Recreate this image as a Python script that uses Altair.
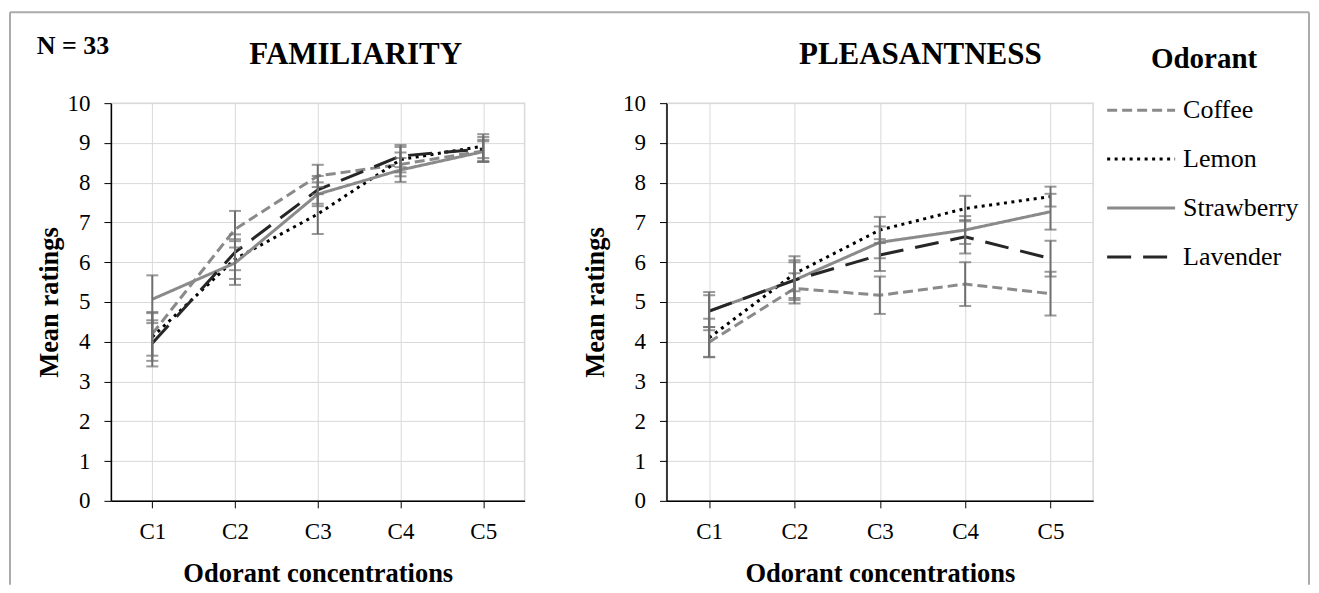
import altair as alt
import pandas as pd

categories = ["C1", "C2", "C3", "C4", "C5"]
odorants = ["Coffee", "Lemon", "Strawberry", "Lavender"]

# FAMILIARITY means
fam_coffee = [4.20, 6.83, 8.17, 8.46, 8.80]
fam_lemon = [4.12, 6.08, 7.21, 8.58, 8.92]
fam_strawberry = [5.07, 5.98, 7.71, 8.32, 8.78]
fam_lavender = [3.96, 6.25, 7.82, 8.67, 8.85]
# FAMILIARITY error half-widths
fam_err_coffee = [0.55, 0.46, 0.28, 0.30, 0.28]
fam_err_lemon = [0.60, 0.50, 0.50, 0.32, 0.30]
fam_err_strawberry = [0.60, 0.55, 0.30, 0.30, 0.26]
fam_err_lavender = [0.58, 0.45, 0.35, 0.28, 0.30]

# PLEASANTNESS means
ple_coffee = [3.99, 5.34, 5.17, 5.45, 5.21]
ple_lemon = [4.10, 5.71, 6.81, 7.35, 7.65]
ple_strawberry = [4.77, 5.55, 6.50, 6.81, 7.27]
ple_lavender = [4.77, 5.55, 6.18, 6.64, 6.09]
# PLEASANTNESS error half-widths
ple_err_coffee = [0.38, 0.38, 0.47, 0.55, 0.55]
ple_err_lemon = [0.48, 0.44, 0.33, 0.32, 0.25]
ple_err_strawberry = [0.48, 0.50, 0.40, 0.35, 0.45]
ple_err_lavender = [0.40, 0.45, 0.40, 0.42, 0.45]

y_ticks = list(range(0, 11))

FONT = "Liberation Serif"
GRID = "#d9d9d9"
ERR = "#6e6e6e"


def make_df(vals, errs):
    rows = []
    for o, v, e in zip(odorants, vals, errs):
        for c, vi, ei in zip(categories, v, e):
            rows.append({"cat": c, "odorant": o, "mean": vi,
                         "low": round(vi - ei, 3), "high": round(vi + ei, 3)})
    return pd.DataFrame(rows)


df_fam = make_df([fam_coffee, fam_lemon, fam_strawberry, fam_lavender],
                 [fam_err_coffee, fam_err_lemon, fam_err_strawberry, fam_err_lavender])
df_ple = make_df([ple_coffee, ple_lemon, ple_strawberry, ple_lavender],
                 [ple_err_coffee, ple_err_lemon, ple_err_strawberry, ple_err_lavender])

color_scale = alt.Scale(domain=odorants, range=["#8a8a8a", "#000000", "#8a8a8a", "#262626"])
dash_scale = alt.Scale(domain=odorants, range=[[10, 5], [3, 4.5], [1, 0], [24, 12]])

legend = alt.Legend(
    title=None, orient="none", legendX=1018, legendY=-6,
    symbolType="M-3.4,0H3.4", symbolSize=400, symbolStrokeWidth=3,
    labelFont=FONT, labelFontSize=26, labelColor="black", labelOffset=29,
    rowPadding=23,
)


def x_axis():
    return alt.Axis(title="Odorant concentrations", labelAngle=0, labelFont=FONT,
                    labelFontSize=23, labelColor="black", labelPadding=13,
                    titleFont=FONT, titleFontSize=26.5, titleFontWeight="bold",
                    titleColor="black", titlePadding=17, tickSize=7,
                    tickColor="black", domainColor="black", domainWidth=1.5,
                    gridColor=GRID, grid=True)


def y_axis(tpad):
    return alt.Axis(title="Mean ratings", values=y_ticks, labelFont=FONT,
                    labelFontSize=23, labelColor="black", labelPadding=14,
                    titleFont=FONT, titleFontSize=26.5, titleFontWeight="bold",
                    titleColor="black", titlePadding=tpad, tickSize=7,
                    tickColor="black", domainColor="black", domainWidth=1.5,
                    gridColor=GRID, grid=True)


one = alt.Data(values=[{"t": "N = 33"}])


def label_text(text, cx, cy, size):
    return alt.Chart(alt.Data(values=[{"t": text}])).mark_text(
        font=FONT, fontSize=size, fontWeight="bold", color="black",
        align="center", baseline="alphabetic").encode(
        x=alt.value(cx), y=alt.value(cy), text="t:N")


def panel(df, title, cx, w, h, tpad, extras=None):
    xs = alt.Scale(type="point", padding=0.5)
    ys = alt.Scale(domain=[0, 10], nice=False)
    X = alt.X("cat:N", sort=categories, scale=xs, axis=x_axis())
    base = alt.Chart(df)
    lines = base.mark_line(strokeWidth=3, strokeCap="butt").encode(
        x=X,
        y=alt.Y("mean:Q", scale=ys, axis=y_axis(tpad)),
        color=alt.Color("odorant:N", scale=color_scale, sort=odorants, legend=legend),
        strokeDash=alt.StrokeDash("odorant:N", scale=dash_scale, sort=odorants, legend=legend),
    )
    rules = base.mark_rule(color=ERR, strokeWidth=2).encode(
        x=X, y=alt.Y("low:Q", scale=ys, axis=y_axis(tpad)), y2="high:Q")
    cap_lo = base.mark_tick(color=ERR, thickness=2, size=12).encode(
        x=X, y=alt.Y("low:Q", scale=ys, axis=y_axis(tpad)))
    cap_hi = base.mark_tick(color=ERR, thickness=2, size=12).encode(
        x=X, y=alt.Y("high:Q", scale=ys, axis=y_axis(tpad)))
    layers = [lines, rules, cap_lo, cap_hi, label_text(title, cx, -39, 31)]
    if extras:
        layers += extras
    return alt.layer(*layers).properties(width=w, height=h)


frame_color = "#ababab"
frame_left = alt.Chart(one).mark_rule(color=frame_color, strokeWidth=2).encode(
    x=alt.value(-101), y=alt.value(-91), y2=alt.value(482))
frame_top = alt.Chart(one).mark_rule(color=frame_color, strokeWidth=2).encode(
    x=alt.value(-101), x2=alt.value(1199), y=alt.value(-91))
frame_right = alt.Chart(one).mark_rule(color=frame_color, strokeWidth=2).encode(
    x=alt.value(1199), y=alt.value(-91), y2=alt.value(482))
n_text = alt.Chart(one).mark_text(font=FONT, fontSize=26, fontWeight="bold",
                                  color="black", align="center", baseline="middle").encode(
    x=alt.value(-38), y=alt.value(-57), text="t:N")

legend_title = label_text("Odorant", 538, -35, 29)

left = panel(df_fam, "FAMILIARITY", 245, 414, 398, 3,
             extras=[frame_left, frame_top, frame_right, n_text])
right = panel(df_ple, "PLEASANTNESS", 254, 427, 398, 13, extras=[legend_title])

chart = alt.hconcat(left, right, spacing=142, bounds="flush").configure(
    padding={"left": 0, "top": 2, "right": 0, "bottom": 0},
    background="white",
).configure_view(stroke=GRID, strokeWidth=1.5)

chart.save("out.html", embed_options={"renderer": "svg", "actions": False})
